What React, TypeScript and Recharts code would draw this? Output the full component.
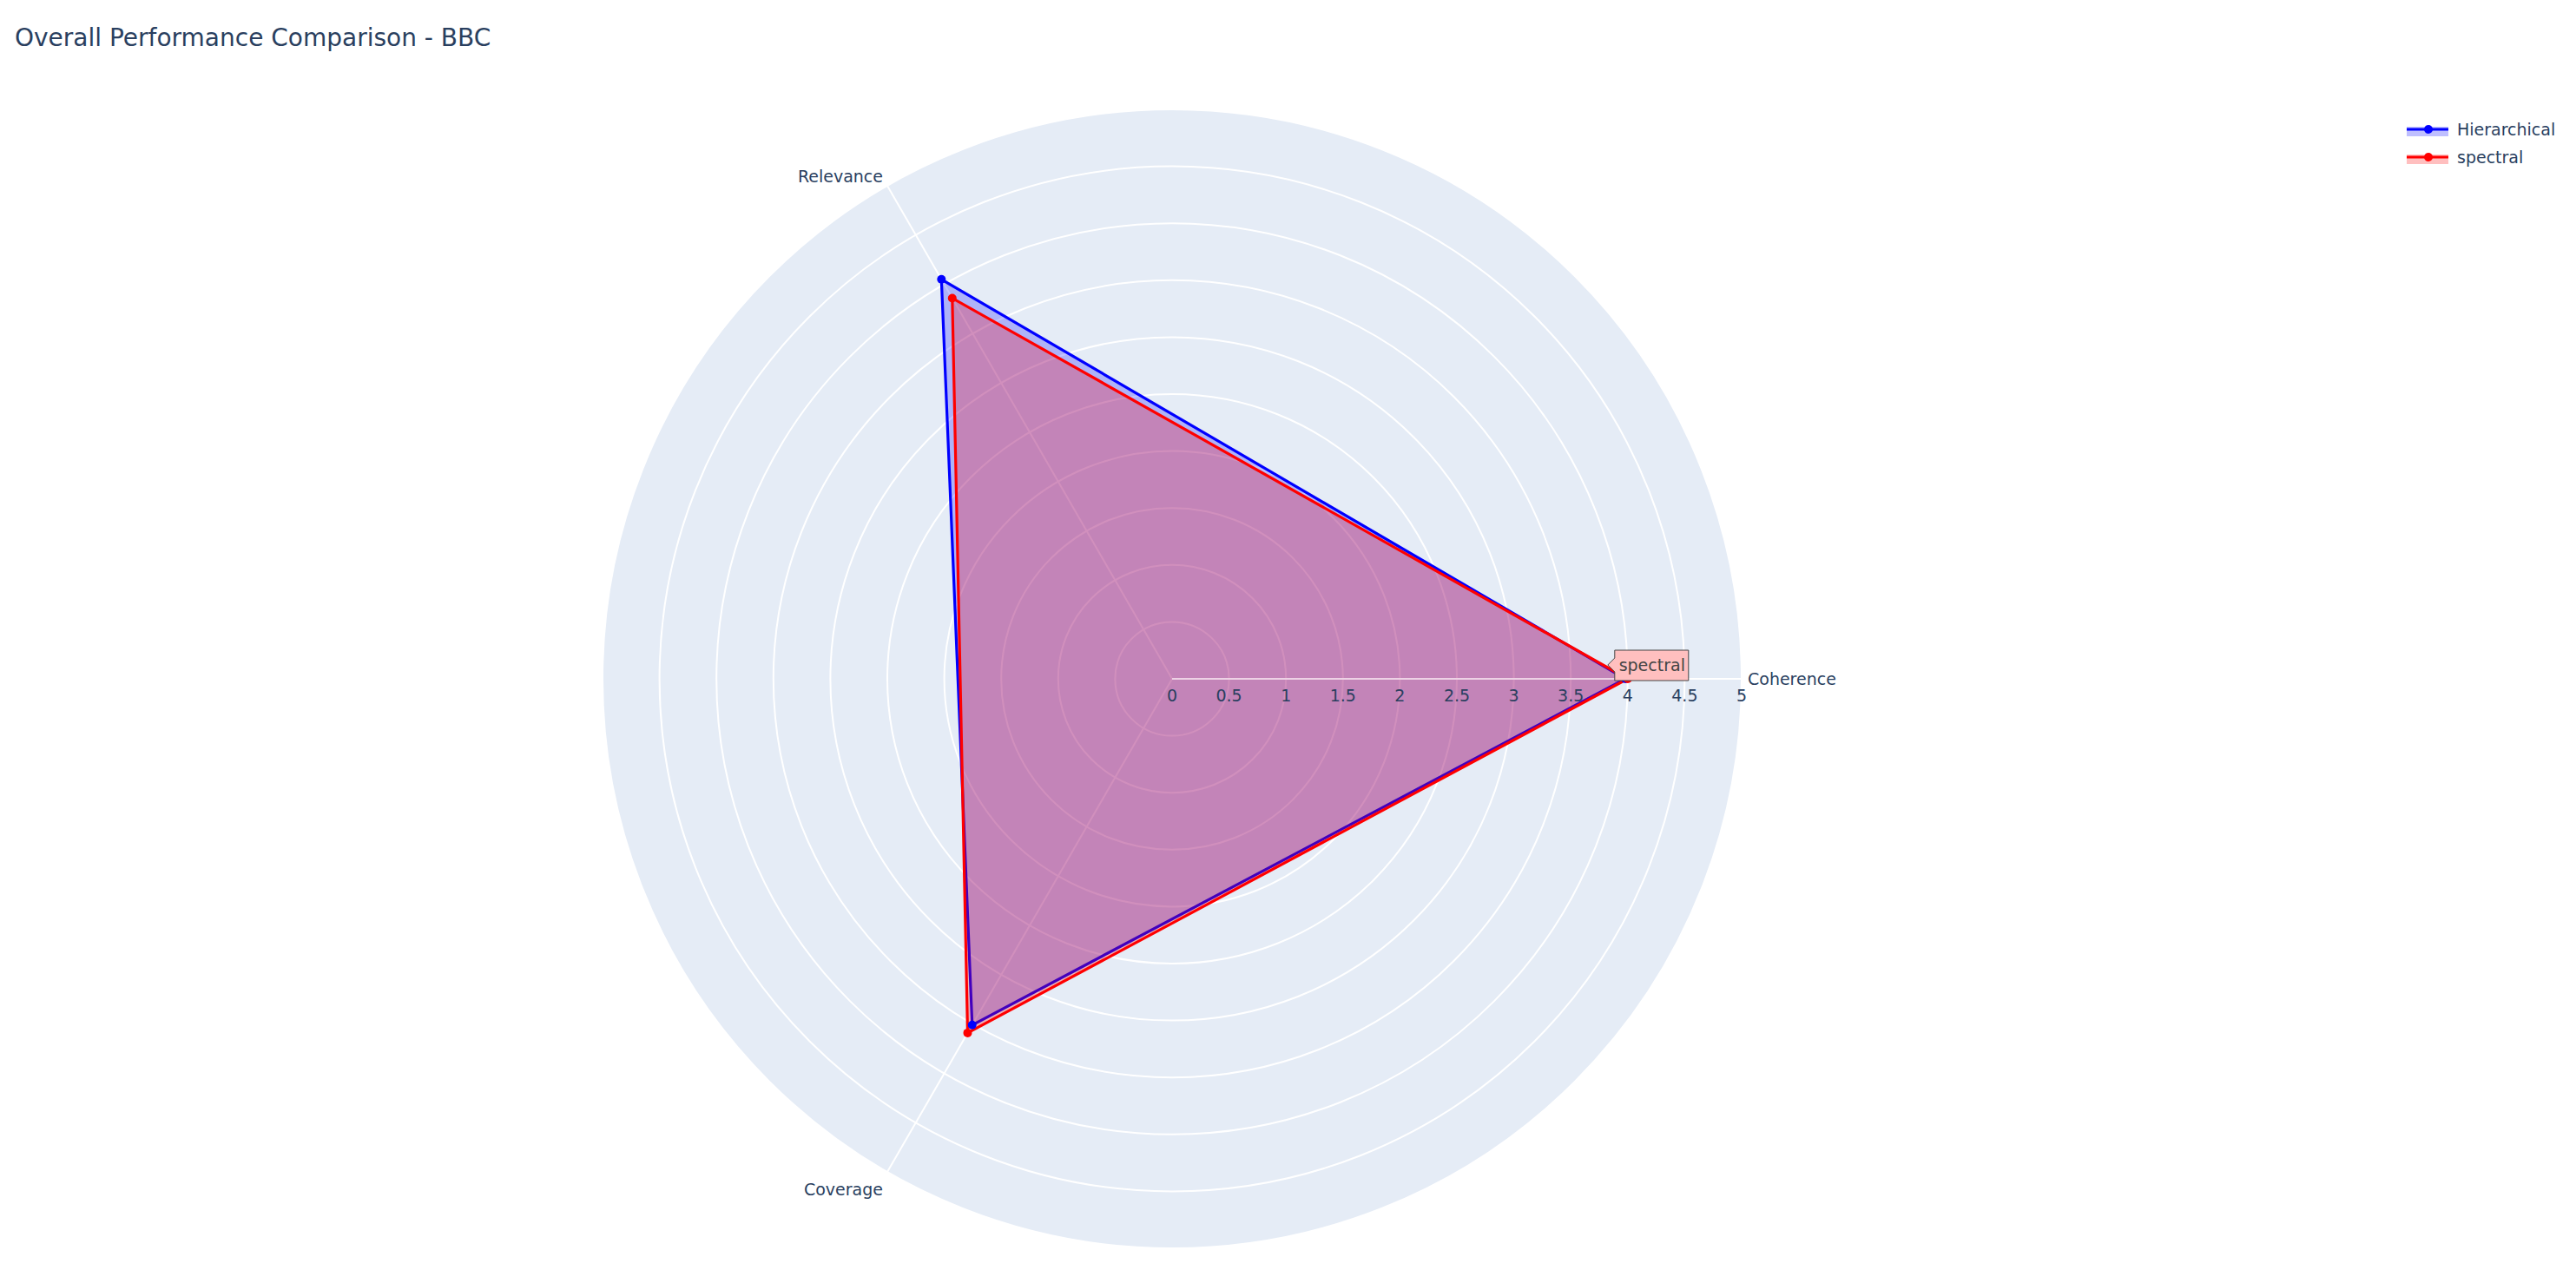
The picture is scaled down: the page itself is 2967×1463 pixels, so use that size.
import { RadarChart, PolarGrid, PolarAngleAxis, PolarRadiusAxis, Radar } from "recharts";

const categories = ["Coherence", "Relevance", "Coverage"];
const hierarchical = [3.98, 4.05, 3.51];
const spectral = [4.0, 3.86, 3.59];
const radiusTicks = [0, 0.5, 1, 1.5, 2, 2.5, 3, 3.5, 4, 4.5, 5];

const data = categories.map((c, i) => ({
  metric: c,
  Hierarchical: hierarchical[i],
  spectral: spectral[i],
}));

const W = 2967;
const H = 1463;
const CX = 1350;
const CY = 782;
const R = 656;
const FONT = "'DejaVu Sans', Verdana, sans-serif";
const TXT = "#2a3f5f";

// the angle ticks come out one band ahead of the radar points, so pick the
// category whose point sits at this tick's angle
const AngleTick = (props: any) => {
  const { x, y, textAnchor, index } = props;
  const label = categories[(index + 1) % categories.length];
  let dy = 7;
  if (y < CY - 5) dy = 3;
  if (y > CY + 5) dy = 20;
  return (
    <text x={x - 1} y={y + dy} textAnchor={textAnchor} fontSize={19} fill={TXT} fontFamily={FONT}>
      {label}
    </text>
  );
};

const RadiusTick = (props: any) => {
  const { x, y, payload } = props;
  return (
    <text x={x} y={y + 26} textAnchor="middle" fontSize={19} fill={TXT} fontFamily={FONT}>
      {payload.value}
    </text>
  );
};

// hover label left in the screenshot, on the spectral Coherence point
const HoverLabel = (props: any) => {
  const { x, y, index } = props;
  if (index !== 0) return null;
  const tx = x - 23;
  const ty = y - 16;
  const left = tx + 8;
  const d = `M${tx},${ty} L${left},${ty - 8} L${left},${ty - 17} L${left + 85},${ty - 17} L${left + 85},${ty + 18} L${left},${ty + 18} L${left},${ty + 8} Z`;
  return (
    <g>
      <path d={d} fill="#ffbfbf" stroke="#444" strokeWidth={1} />
      <text x={left + 43} y={ty + 7} textAnchor="middle" fontSize={19} fill="#444" fontFamily={FONT}>
        spectral
      </text>
    </g>
  );
};

const legendItems = [
  { name: "Hierarchical", color: "#0000ff", band: "rgba(0,0,255,0.25)" },
  { name: "spectral", color: "#ff0000", band: "rgba(255,0,0,0.25)" },
];

export default function App() {
  return (
    <div style={{ position: "absolute", left: 0, top: 0, width: W, height: H, background: "#fff", fontFamily: FONT }}>
      <div
        style={{
          position: "absolute",
          left: CX - R,
          top: CY - R,
          width: R * 2,
          height: R * 2,
          borderRadius: "50%",
          background: "#e5ecf6",
        }}
      />
      <svg width={W} height={H} style={{ position: "absolute", left: 0, top: 0 }}>
        <text x={17} y={53} fontSize={28} fill={TXT} fontFamily={FONT}>
          Overall Performance Comparison - BBC
        </text>
        {legendItems.map((it, i) => {
          const cy = 149 + i * 32;
          return (
            <g key={it.name}>
              <rect x={2772} y={cy - 3} width={48} height={11} fill={it.band} />
              <line x1={2772} x2={2820} y1={cy} y2={cy} stroke={it.color} strokeWidth={3.2} />
              <circle cx={2797} cy={cy} r={5} fill={it.color} />
              <text x={2830} y={cy + 7} fontSize={19} fill={TXT} fontFamily={FONT}>
                {it.name}
              </text>
            </g>
          );
        })}
      </svg>
      <div style={{ position: "absolute", left: 0, top: 0 }}>
        <RadarChart
          width={W}
          height={H}
          data={data}
          cx={CX}
          cy={CY}
          outerRadius={R}
          startAngle={-120}
          endAngle={240}
          margin={{ top: 0, right: 0, bottom: 0, left: 0 }}
        >
          <PolarGrid gridType="circle" stroke="#ffffff" strokeWidth={2} />
          <PolarAngleAxis dataKey="metric" tick={<AngleTick />} tickLine={false} axisLine={false} />
          <Radar
            name="Hierarchical"
            dataKey="Hierarchical"
            stroke="#0000ff"
            strokeWidth={3.2}
            fill="#0000ff"
            fillOpacity={0.24}
            dot={{ r: 5, fill: "#0000ff", fillOpacity: 1, strokeWidth: 0 }}
            isAnimationActive={false}
          />
          <Radar
            name="spectral"
            dataKey="spectral"
            stroke="#ff0000"
            strokeWidth={3.2}
            fill="#ff0000"
            fillOpacity={0.26}
            dot={{ r: 5, fill: "#ff0000", fillOpacity: 1, strokeWidth: 0 }}
            label={<HoverLabel />}
            isAnimationActive={false}
          />
          <PolarRadiusAxis
            angle={0}
            domain={[0, 5]}
            ticks={radiusTicks as any}
            tick={<RadiusTick />}
            tickLine={false}
            axisLine={{ stroke: "#ffffff", strokeWidth: 2, strokeOpacity: 0.6 }}
          />
        </RadarChart>
      </div>
    </div>
  );
}
